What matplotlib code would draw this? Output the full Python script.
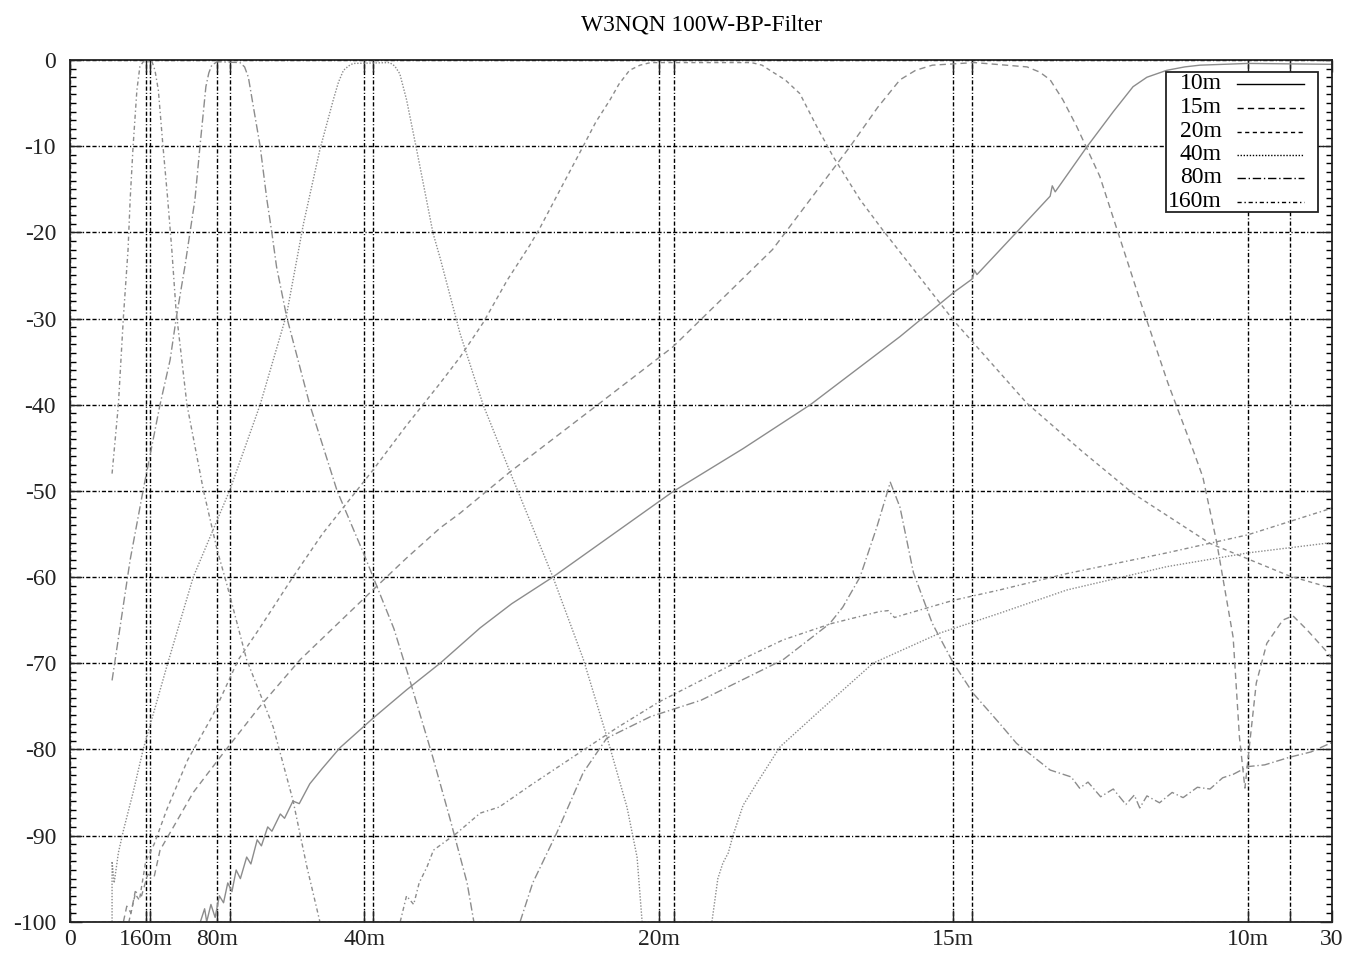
"""W3NQN 100W band-pass filter sweep, redrawn with matplotlib."""

import numpy as np
import matplotlib

matplotlib.use("Agg")
import matplotlib.pyplot as plt
from matplotlib.patches import Rectangle

nan = np.nan

# --- data (MHz, dB) --------------------------------------------------------
freq_10m = [3.10, 3.20, 3.25, 3.35, 3.45, 3.55, 3.65, 3.75, 3.85, 3.95, 4.05, 4.20, 4.30,
            4.45, 4.55, 4.70, 4.80, 5.00, 5.10, 5.30, 5.45, 5.70, 6.00, 6.42, 7.20, 8.00,
            8.80, 9.75, 10.50, 11.48, 14.33, 16.00, 17.60, 19.73, 21.00, 21.45, 21.50, 21.56,
            22.50, 23.30, 23.35, 23.42, 24.17, 24.80, 25.27, 25.60, 26.07, 26.50, 26.86,
            28.00, 30.00]
db_10m = [-100, -98.5, -100, -98, -99.5, -97, -97.8, -95.5, -96.5, -94, -95, -92.5, -93.3,
          -90.5, -91.2, -89, -89.5, -87.5, -88, -86, -86.3, -84, -82.2, -79.8, -76.4, -73.1,
          -70, -65.9, -63.1, -60, -50.1, -45.1, -40, -32.1, -27.0, -25.4, -24.4, -24.9,
          -20, -15.8, -14.6, -15.3, -10.1, -6.0, -3.1, -2.0, -1.2, -0.8, -0.6,
          -0.4, -0.5]

freq_15m = [1.27, 1.35, 1.45, 1.55, 1.70, 1.85, 2.00, 2.14, 2.40, 2.93, 3.57, 4.50, 5.47,
            7.20, 8.00, 8.80, 9.27, 10.46, 12.60, 14.33, 16.70, 18.55, 19.20, 19.73, 20.10,
            20.50, 21.50, 22.75, 23.05, 23.30, 23.60, 23.93, 24.48, 25.43, 26.10, 26.70,
            26.93, 27.26, 27.65, 27.80, 27.93, 28.05, 28.20, 28.45, 28.83, 29.07, 29.40,
            29.90, 30.00]
db_15m = [-100, -98.2, -99, -96.5, -97, -94.5, -94.8, -91.7, -89.5, -85, -80.9, -75.1, -69.6,
          -61.5, -57.8, -54.3, -52.6, -47.8, -39.8, -33.3, -22, -10, -5.5, -2.3, -1.2,
          -0.6, -0.3, -0.8, -1.4, -2.3, -4.6, -7.7, -13.5, -27.8, -37.5, -45.3,
          -48.4, -56, -67, -78.6, -84.5, -79, -72.3, -67.7, -65, -64.5, -66.1,
          -68.8, -69.5]

freq_20m = [1.40, 1.55, 1.65, 1.80, 2.00, 2.30, 2.80, 3.40, 4.00, 4.50, 5.30, 6.00, 7.20,
            8.00, 8.80, 9.27, 9.82, 10.40, 10.93, 11.17, 11.70, 12.20, 12.50, 12.84, 13.05,
            13.30, 13.55, 13.80, 16.20, 16.45, 16.64, 17.00, 17.35, 17.75, 18.14, 18.78,
            19.30, 21.00, 22.74, 24.08, 24.80, 25.27, 27.10, 28.45, 29.00, 30.00]
db_20m = [-100, -96.8, -97.5, -93, -91, -87, -81.2, -76, -69.6, -66, -60, -55, -47.6,
          -42.4, -37.5, -34.5, -30.5, -25.5, -21.5, -19.5, -14.6, -10, -7.2, -4.6, -2.8,
          -1.2, -0.6, -0.3, -0.3, -0.6, -1.2, -2.3, -3.9, -7.7, -11.2, -16.2,
          -19.6, -30.2, -39.8, -45.5, -48.4, -50.3, -56.1, -58.8, -59.9, -61.3]

freq_40m = [1.00, 1.00, 1.05, 1.15, 1.27, 1.50, 1.74, 2.30, 2.93, 3.80, 4.52, 5.15, 5.55,
            5.94, 6.26, 6.38, 6.50, 6.62, 6.73, 7.60, 7.72, 7.84, 8.00, 8.24, 8.63, 8.80,
            9.27, 9.82, 10.46, 11.48, 12.20, 12.76, 13.24, 13.48, 13.60, nan, 15.26, 15.40,
            15.52, 15.65, 15.76, 16.00, 16.33, 16.88, 17.76, 19.09, 20.68, 22.10, 23.70,
            26.07, 28.00, 30.00]
db_40m = [-100, -93, -95.5, -92, -89.4, -85, -80, -70.4, -60, -49.9, -40, -29.5, -19,
          -10.4, -4.6, -2.6, -1.2, -0.7, -0.4, -0.3, -0.7, -1.6, -4.6, -10.4, -20.1, -23,
          -31.7, -40, -47.8, -60, -69.5, -78.5, -86.7, -92.5, -100, nan, -100, -95,
          -93.2, -92, -90, -86.5, -83.9, -79.7, -75.8, -70, -66.5, -64.2, -61.5,
          -58.8, -57.2, -56]

freq_80m = [1.00, 1.43, 1.74, 2.14, 2.38, 2.53, 2.73, 2.97, 3.09, 3.23, 3.30, 3.37, 3.50,
            4.04, 4.15, 4.24, 4.40, 4.52, 4.68, 4.80, 4.91, 5.15, 5.70, 6.35, 7.00, 7.70,
            8.08, 8.63, 9.03, 9.44, 9.60, nan, 10.70, 11.00, 11.57, 12.20, 12.76, 13.80,
            15.00, 16.95, 18.06, 18.37, 18.78, 19.18, 19.50, 19.73, 20.05, 20.50, 21.00,
            21.47, 22.10, 22.50, 23.30, 23.80, 24.00, 24.20, 24.50, 24.80, 25.10, 25.30,
            25.43, 25.60, 25.90, 26.20, 26.46, 26.80, 27.10, 27.40, 27.65, 28.00, 28.40,
            29.00, 29.50, 30.00]
db_80m = [-72, -58, -49.9, -40, -34.8, -29.8, -24, -16.2, -10, -3.1, -1.5, -0.6, -0.2,
          -0.3, -0.8, -2, -6.6, -10, -16.2, -20.1, -24, -29.8, -40, -50, -57.5, -66,
          -72, -81, -88, -95.5, -100, nan, -100, -95.5, -89.7, -82.7, -78.7, -76.2,
          -74.3, -69.6, -65.4, -63.5, -60, -54.2, -49, -51.9, -59.5, -65.4, -70,
          -73.5, -77, -79.3, -82.4, -83.2, -84.5, -83.8, -85.5, -84.6, -86.4, -85.3,
          -86.8, -85.4, -86.2, -85.0, -85.6, -84.4, -84.6, -83.3, -82.9, -82.0, -81.8,
          -80.9, -80.3, -79.2]

freq_160m = [1.00, 1.15, 1.27, 1.38, 1.43, 1.50, 1.59, 1.66, 1.74, 1.95, 2.02, 2.10, 2.21,
             2.32, 2.42, 2.52, 2.78, 3.17, 3.50, 3.72, 4.20, 4.83, 5.30, 5.63, 5.94, nan,
             7.85, 8.00, 8.17, 8.30, 8.49, 8.64, 9.20, 9.75, 10.20, 11.00, 12.20, 13.00,
             14.00, 15.00, 16.00, 16.95, 18.10, 19.25, 19.45, 19.60, 19.80, 21.00, 22.10,
             23.70, 26.07, 28.00, 30.00]
db_160m = [-48, -40, -29.8, -22, -16.2, -10, -3.5, -0.8, -0.2, -0.2, -1.2, -3.5, -10,
           -16, -22, -29, -40, -49.9, -56.9, -60.7, -69.6, -77.4, -85.9, -93.6, -100, nan,
           -100, -97, -98, -95.5, -93.6, -91.7, -89.7, -87.4, -86.7, -84, -80.1, -77.5,
           -74.5, -72, -69.5, -67.3, -65.4, -64, -63.9, -64.7, -64.4, -62.7, -61.5,
           -59.6, -57.2, -55.1, -52]

band_labels = ["10m", "15m", "20m", "40m", "80m", "160m"]
xtick_pos = [0, 1.8, 1.9, 3.5, 3.8, 7.0, 7.2, 14.0, 14.35, 21.0, 21.45, 28.0, 29.0, 30]
xtick_text = ["0", "160m", "", "80m", "", "40m", "", "20m", "", "15m", "", "10m", "", "30"]

# --- styling ---------------------------------------------------------------
plt.rcParams["font.family"] = "Liberation Serif"
plt.rcParams["axes.unicode_minus"] = False
CURVE_COLOR = "#8c8c8c"
GRID_STYLE = (0, (3, 1.5, 3, 1.5, 0.8, 1.5))
styles = {
    "10m": "-",
    "15m": (0, (4.5, 3)),
    "20m": (0, (3, 2.5)),
    "40m": (0, (1, 1.2)),
    "80m": (0, (6, 2, 1, 2)),
    "160m": (0, (3, 2, 1, 2)),
}
series = {
    "10m": (freq_10m, db_10m),
    "15m": (freq_15m, db_15m),
    "20m": (freq_20m, db_20m),
    "40m": (freq_40m, db_40m),
    "80m": (freq_80m, db_80m),
    "160m": (freq_160m, db_160m),
}

fig = plt.figure(figsize=(13.49, 9.58), dpi=100)
ax = fig.add_axes([0.05189, 0.03789, 0.93551, 0.89948])

for name in band_labels:
    f, d = series[name]
    ax.plot(f, d, color=CURVE_COLOR, lw=1.0, linestyle=styles[name], zorder=2)

ax.set_xlim(0, 30)
ax.set_ylim(-100, 0)

ax.set_xticks(xtick_pos)
ax.set_xticklabels(xtick_text)
ax.set_yticks(np.arange(-100, 1, 10))
ax.set_yticks(np.arange(-100, 1, 1), minor=True)

ax.tick_params(axis="both", which="major", direction="in", length=8.6, width=1.0,
               top=True, right=True, labelsize=17, colors="#222222")
ax.tick_params(axis="both", which="minor", direction="in", length=4.3, width=1.0,
               top=False, right=True, bottom=False)
ax.tick_params(axis="x", pad=5)
ax.tick_params(axis="y", pad=10)

ax.grid(True, which="major", color="black", lw=1.0, linestyle=GRID_STYLE, zorder=1)
for sp in ax.spines.values():
    sp.set_linewidth(1.3)
    sp.set_color("#222222")

fig.text(0.5197, 1 - 25 / 958, "W3NQN 100W-BP-Filter", ha="center", va="center",
         fontsize=16.8)

# Legend in gnuplot style: right-aligned text, black line sample on the right
box = Rectangle((0.8685, 0.8236), 0.9889 - 0.8685, 0.9861 - 0.8236, transform=ax.transAxes,
                facecolor="white", edgecolor="#222222", lw=1.3, zorder=5)
ax.add_patch(box)
row_y = [0.9725, 0.9447, 0.9168, 0.8901, 0.8634, 0.8356]
for name, yy in zip(band_labels, row_y):
    ax.text(0.9128, yy, name, transform=ax.transAxes, ha="right", va="center",
            fontsize=17, zorder=6)
    ax.plot([0.9247, 0.9778], [yy, yy], transform=ax.transAxes, color="black", lw=1.0,
            linestyle=styles[name], zorder=6, clip_on=False)

fig.savefig("out.png", dpi=100)
plt.close(fig)
